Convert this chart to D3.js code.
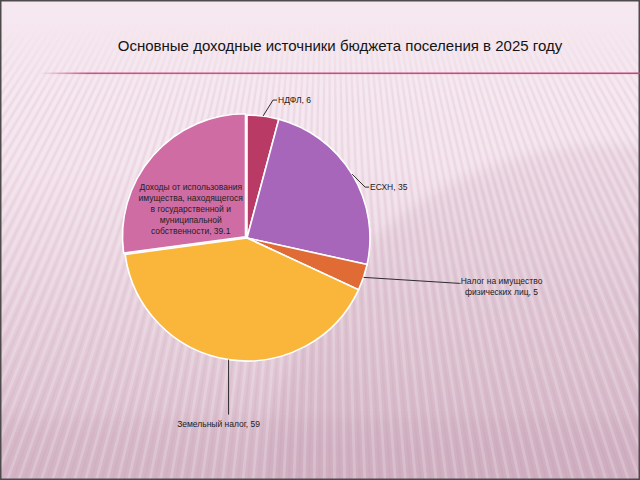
<!DOCTYPE html>
<html>
<head>
<meta charset="utf-8">
<script src="https://cdn.jsdelivr.net/npm/d3@7"></script>
<style>
  html, body { margin: 0; padding: 0; background: #f4e4ec; }
  svg { display: block; }
</style>
</head>
<body>
<svg id="chart" width="640" height="480"></svg>
<script>
// ---- Data ----
const title = "Основные доходные источники бюджета поселения в 2025 году";
const categories = [
  "НДФЛ",
  "ЕСХН",
  "Налог на имущество физических лиц",
  "Земельный налог",
  "Доходы от использования имущества, находящегося в государственной и муниципальной собственности"
];
const values = [6, 35, 5, 59, 39.1];
const labelLines = [
  ["НДФЛ, 6"],
  ["ЕСХН, 35"],
  ["Налог на имущество", "физических лиц, 5"],
  ["Земельный налог, 59"],
  ["Доходы от использования", "имущества, находящегося", "в государственной и", "муниципальной", "собственности, 39.1"]
];
const colors = ["#B93A65", "#A866BB", "#E06B35", "#F9B63A", "#CF6CA4"];

// ---- Layout ----
const W = 640, H = 480;
const cx = 247, cy = 238, R = 123;
const svg = d3.select("#chart");
const defs = svg.append("defs");

// background gradient
const bg = defs.append("linearGradient").attr("id", "bg").attr("x1", 0).attr("y1", 0).attr("x2", 0).attr("y2", 1);
bg.append("stop").attr("offset", 0).attr("stop-color", "#f6e8f0");
bg.append("stop").attr("offset", 0.35).attr("stop-color", "#f2e0ea");
bg.append("stop").attr("offset", 0.75).attr("stop-color", "#e2c9d6");
bg.append("stop").attr("offset", 1).attr("stop-color", "#d6b8c9");
svg.append("rect").attr("width", W).attr("height", H).attr("fill", "url(#bg)");

// soft darker circle on the right
const blur = defs.append("filter").attr("id", "blur").attr("x", "-20%").attr("y", "-20%").attr("width", "140%").attr("height", "140%");
blur.append("feGaussianBlur").attr("stdDeviation", 6);
svg.append("circle").attr("cx", 610).attr("cy", 490).attr("r", 345)
  .attr("fill", "#b88ea5").attr("opacity", 0.15).attr("filter", "url(#blur)");
// bottom band
svg.append("rect").attr("x", 0).attr("y", 418).attr("width", W).attr("height", 62)
  .attr("fill", "#b88ea5").attr("opacity", 0.1).attr("filter", "url(#blur)");

// stripes radiating from a point above
const mask = defs.append("linearGradient").attr("id", "fadeG").attr("x1", 0).attr("y1", 0).attr("x2", 0).attr("y2", 1);
mask.append("stop").attr("offset", 0).attr("stop-color", "#000");
mask.append("stop").attr("offset", 0.05).attr("stop-color", "#000");
mask.append("stop").attr("offset", 0.2).attr("stop-color", "#fff");
mask.append("stop").attr("offset", 1).attr("stop-color", "#fff");
const m = defs.append("mask").attr("id", "stripeMask").attr("maskUnits", "userSpaceOnUse")
  .attr("x", 0).attr("y", 0).attr("width", W).attr("height", H);
m.append("rect").attr("width", W).attr("height", H).attr("fill", "url(#fadeG)");
const sx = 330, sy = -400;
const stripes = svg.append("g").attr("mask", "url(#stripeMask)");
const step = 0.0115;
for (let a = -0.8; a <= 0.8; a += step) {
  const L = 1200;
  stripes.append("line")
    .attr("x1", sx).attr("y1", sy)
    .attr("x2", sx + Math.sin(a) * L).attr("y2", sy + Math.cos(a) * L)
    .attr("stroke", "#ffffff").attr("stroke-width", 2.8).attr("opacity", 0.2);
  stripes.append("line")
    .attr("x1", sx).attr("y1", sy)
    .attr("x2", sx + Math.sin(a + step / 2) * L).attr("y2", sy + Math.cos(a + step / 2) * L)
    .attr("stroke", "#b98ea6").attr("stroke-width", 2).attr("opacity", 0.1);
}

// frame
svg.append("rect").attr("x", 0.75).attr("y", 0.75).attr("width", W - 1.5).attr("height", H - 1.5)
  .attr("fill", "none").attr("stroke", "#4d4a4c").attr("stroke-width", 1.5);

// title
svg.append("text").attr("x", 340).attr("y", 51).attr("text-anchor", "middle")
  .attr("font-family", "Liberation Sans, Arial, sans-serif").attr("font-size", 15).attr("fill", "#141414")
  .text(title);

// title rule
const lg = defs.append("linearGradient").attr("id", "ruleG").attr("x1", 0).attr("y1", 0).attr("x2", 1).attr("y2", 0);
lg.append("stop").attr("offset", 0).attr("stop-color", "#c4467a").attr("stop-opacity", 0);
lg.append("stop").attr("offset", 0.08).attr("stop-color", "#c4467a").attr("stop-opacity", 0.9);
lg.append("stop").attr("offset", 1).attr("stop-color", "#c4467a").attr("stop-opacity", 1);
svg.append("rect").attr("x", 40).attr("y", 72.5).attr("width", 600).attr("height", 1.6).attr("fill", "url(#ruleG)");

// ---- Pie ----
const data = categories.map((c, i) => ({ name: c, value: values[i], color: colors[i], lines: labelLines[i], i }));
const pie = d3.pie().value(d => d.value).sort(null);
const arcs = pie(data);
const arc = d3.arc().innerRadius(0).outerRadius(R);
const g = svg.append("g").attr("transform", `translate(${cx},${cy})`);

const explode = [0, 0, 0, 0, 2];
g.selectAll("path.slice").data(arcs).join("path")
  .attr("class", "slice")
  .attr("d", arc)
  .attr("transform", d => {
    const mid = (d.startAngle + d.endAngle) / 2, e = explode[d.index];
    return `translate(${Math.sin(mid) * e},${-Math.cos(mid) * e})`;
  })
  .attr("fill", d => d.data.color)
  .attr("stroke", "#ffffff").attr("stroke-width", 1.6).attr("stroke-linejoin", "round");

// ---- Labels ----
const font = "Liberation Sans, Arial, sans-serif";
const fs = 8.5;
function edge(d) {
  const mid = (d.startAngle + d.endAngle) / 2;
  return [Math.sin(mid) * R, -Math.cos(mid) * R];
}
// leader geometry relative to the slice edge point: elbow offset, end offset, text offset
const leaders = {
  0: { elbow: [10, -16], end: [14, -16], text: [15, -16], anchor: "start" },
  1: { elbow: [13, 13], end: [17, 13], text: [18, 13], anchor: "start" },
  2: { elbow: [96, 6], end: [97, 6], text: [138, 4], anchor: "middle" },
  3: { elbow: [0, 55], end: [0, 55], text: [-10, 64], anchor: "middle" }
};
const lab = g.append("g");
arcs.forEach(d => {
  const L = leaders[d.index];
  if (L) {
    const p = edge(d);
    const pts = [p, [p[0] + L.elbow[0], p[1] + L.elbow[1]], [p[0] + L.end[0], p[1] + L.end[1]]];
    lab.append("path").attr("d", d3.line()(pts)).attr("fill", "none")
      .attr("stroke", "#1a1a1a").attr("stroke-width", 0.9);
    const t = lab.append("text").attr("font-family", font).attr("font-size", fs).attr("fill", "#222")
      .attr("text-anchor", L.anchor);
    d.data.lines.forEach((ln, k) => {
      t.append("tspan").attr("x", p[0] + L.text[0]).attr("y", p[1] + L.text[1] + 3 + k * 10.5).text(ln);
    });
  } else {
    // inside label
    const c = d3.arc().innerRadius(0).outerRadius(R).centroid(d);
    const t = lab.append("text").attr("font-family", font).attr("font-size", fs).attr("fill", "#222")
      .attr("text-anchor", "middle");
    const n = d.data.lines.length;
    d.data.lines.forEach((ln, k) => {
      t.append("tspan").attr("x", c[0] - 10).attr("y", c[1] + 3 + (k - (n - 1) / 2) * 10.8 + 11.5).text(ln);
    });
  }
});
</script>
</body>
</html>
